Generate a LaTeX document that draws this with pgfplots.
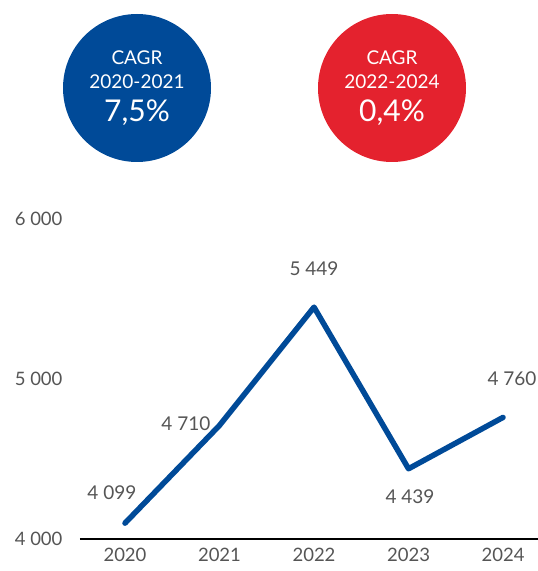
\documentclass[border=0pt]{standalone}
\usepackage{pgfplots}
\pgfplotsset{compat=1.18}
\usepackage{fontspec}
\setmainfont{Lato}
\definecolor{cblue}{HTML}{004A98}
\definecolor{cred}{HTML}{E4222E}
\definecolor{tgray}{HTML}{555555}
\begin{document}
\begin{tikzpicture}[x=1pt,y=1pt]
\path[use as bounding box] (0,0) rectangle (538,571);
\fill[cblue] (137,483) circle (74);
\fill[cred] (392,483) circle (74);
\node[white,font=\fontsize{19}{22}\selectfont] at (137,513) {CAGR};
\node[white,font=\fontsize{19}{22}\selectfont] at (137,489) {2020-2021};
\node[white,font=\fontsize{30}{34}\selectfont] at (137,458) {7,5\%};
\node[white,font=\fontsize{19}{22}\selectfont] at (392,513) {CAGR};
\node[white,font=\fontsize{19}{22}\selectfont] at (392,489) {2022-2024};
\node[white,font=\fontsize{30}{34}\selectfont] at (392,458) {0,4\%};
\begin{axis}[
  at={(80pt,32pt)}, anchor=south west,
  scale only axis, width=458pt, height=320pt,
  xmin=-0.476, xmax=4.37, ymin=4000, ymax=6000,
  axis x line=bottom, axis y line=left,
  x axis line style={black,line width=1.2pt,-},
  y axis line style={draw=none,-},
  xtick={0,1,2,3,4}, xticklabels={2020,2021,2022,2023,2024},
  ytick={4000,5000,6000}, yticklabels={4 000,5 000,6 000},
  major tick length=0pt,
  tick label style={font=\fontsize{18.5}{20}\selectfont, text=tgray},
  xticklabel style={yshift=-6pt},
  yticklabel style={xshift=-14pt},
  clip=false,
]
\addplot[cblue, line width=5.5pt, line cap=round, line join=round] coordinates {
 (0,4099) (1,4710) (2,5449) (3,4439) (4,4760)};
\begin{scope}[every node/.style={font=\fontsize{19}{20}\selectfont, text=tgray}]
\node at (axis cs:-0.138,4287) {4 099};
\node at (axis cs:0.645,4719) {4 710};
\node at (axis cs:2.0,5688) {5 449};
\node at (axis cs:3.016,4262) {4 439};
\node at (axis cs:4.095,5000) {4 760};
\end{scope}
\end{axis}
\end{tikzpicture}
\end{document}
